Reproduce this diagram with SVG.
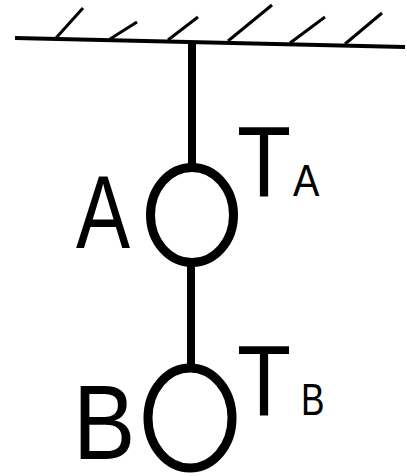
<svg xmlns="http://www.w3.org/2000/svg" width="407" height="476" viewBox="0 0 407 476">
<style>
.ln{stroke:#000;fill:none;stroke-linecap:butt}
.ring{stroke:#000;fill:#fff;stroke-width:9}
.t{font-family:"Liberation Sans",Arial,sans-serif;fill:#000}
</style>
<rect width="407" height="476" fill="#fff"/>
<g id="ceiling">
<line class="ln" x1="15" y1="38" x2="405" y2="47" stroke-width="4"/>
<g stroke-width="3" class="ln">
<line x1="56" y1="38" x2="83" y2="8"/>
<line x1="110" y1="39" x2="137" y2="22"/>
<line x1="168" y1="40" x2="198" y2="17"/>
<line x1="228" y1="41" x2="272" y2="5"/>
<line x1="290" y1="43" x2="325" y2="17"/>
<line x1="345" y1="44" x2="382" y2="13"/>
</g>
</g>
<g id="connectors">
<line class="ln" x1="192" y1="42" x2="192" y2="168" stroke-width="8"/>
<line class="ln" x1="191" y1="262" x2="191" y2="368" stroke-width="8"/>
</g>
<g id="ringA">
<ellipse class="ring" cx="192" cy="215" rx="41.5" ry="47.5"/>
</g>
<g id="ringB">
<ellipse class="ring" cx="190" cy="418" rx="42" ry="50"/>
</g>
<g id="labelA"><text class="t" font-size="104" transform="translate(76,248) scale(0.78,1)">A</text></g>
<g id="labelTA">
<text class="t" font-size="100" transform="translate(237,196) scale(0.885,1)">T</text>
<text class="t" font-size="44" transform="translate(293,196) scale(0.9,1)">A</text>
</g>
<g id="labelB"><text class="t" font-size="105" transform="translate(73,459) scale(0.89,1)">B</text></g>
<g id="labelTB">
<text class="t" font-size="100" transform="translate(237,415) scale(0.885,1)">T</text>
<text class="t" font-size="44" transform="translate(301,415) scale(0.8,1)">B</text>
</g>
</svg>
